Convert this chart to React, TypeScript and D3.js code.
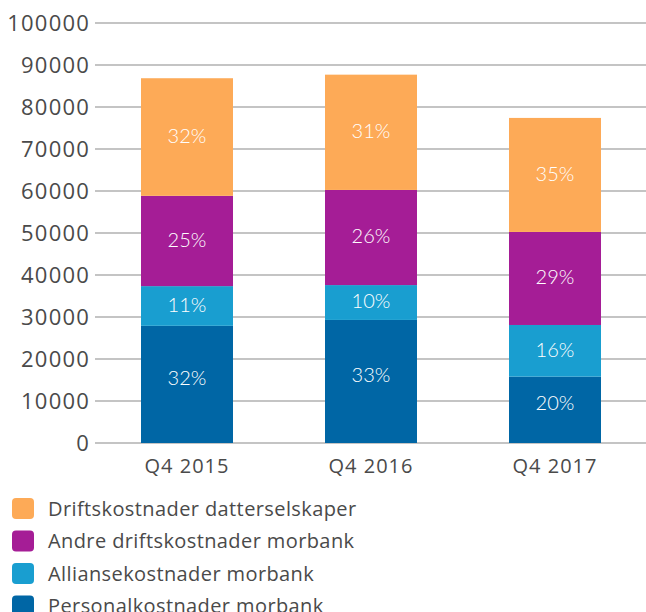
import React from "react";
import * as d3 from "d3";

const categories = ["Q4 2015", "Q4 2016", "Q4 2017"];
const seriesNames = [
  "Personalkostnader morbank",
  "Alliansekostnader morbank",
  "Andre driftskostnader morbank",
  "Driftskostnader datterselskaper",
];
const personal = [27900, 29300, 15800];
const allianse = [9450, 8300, 12300];
const andre = [21500, 22650, 22150];
const drift = [28000, 27450, 27150];
const personalPct = ["32%", "33%", "20%"];
const alliansePct = ["11%", "10%", "16%"];
const andrePct = ["25%", "26%", "29%"];
const driftPct = ["32%", "31%", "35%"];
const yTicks = [0, 10000, 20000, 30000, 40000, 50000, 60000, 70000, 80000, 90000, 100000];
const colors = ["#0066A5", "#199ED0", "#A51D96", "#FDAA57"];

const W = 646;
const H = 612;
const FONT = "'Open Sans', Lato, sans-serif";
const LFONT = "Lato, 'Open Sans', sans-serif";

export default function App() {
  const series = [personal, allianse, andre, drift];
  const pcts = [personalPct, alliansePct, andrePct, driftPct];
  const labelShift = [-7, -1.5, -1.5, -1.5];
  const y = d3.scaleLinear().domain([0, 100000]).range([443, 23]);
  const x = d3.scaleBand().domain(categories).range([95, 647]).paddingInner(0.5).paddingOuter(0.25);
  const rows = categories.map((c, i) => {
    const r: any = { cat: c };
    series.forEach((s, k) => (r["s" + k] = s[i]));
    return r;
  });
  const stack = d3.stack().keys(["s0", "s1", "s2", "s3"])(rows);
  const legendOrder = [3, 2, 1, 0];
  return (
    <svg width={W} height={H} style={{ position: "absolute", left: 0, top: 0, background: "#fff" }}>
      {yTicks.map((t) => (
        <g key={t}>
          <line x1={95} x2={W} y1={y(t)} y2={y(t)} stroke="#c4c4c4" strokeWidth={2} />
          <text x={90} y={y(t)} dy="0.36em" textAnchor="end" fontFamily={FONT} fontSize={22} letterSpacing={1.2} fill="#4a4a4a">
            {t}
          </text>
        </g>
      ))}
      {stack.map((layer, k) =>
        layer.map((d, i) => {
          const x0 = x(categories[i])!;
          const y0 = y(d[1]);
          const h = y(d[0]) - y(d[1]);
          return (
            <g key={k + "-" + i}>
              <rect x={x0} y={y0} width={x.bandwidth()} height={h} fill={colors[k]} />
              <text
                x={x0 + x.bandwidth() / 2}
                y={y0 + h / 2 + labelShift[k]}
                dy="0.36em"
                textAnchor="middle"
                fontFamily={LFONT}
                fontSize={20}
                fontWeight={300}
                fill="#fff"
              >
                {pcts[k][i]}
              </text>
            </g>
          );
        })
      )}
      {categories.map((c) => (
        <text
          key={c}
          x={x(c)! + x.bandwidth() / 2}
          y={466}
          dy="0.36em"
          textAnchor="middle"
          fontFamily={FONT}
          fontSize={20}
          letterSpacing={1}
          fill="#4a4a4a"
        >
          {c}
        </text>
      ))}
      {legendOrder.map((k, j) => (
        <g key={k} transform={`translate(12, ${498 + j * 32.5})`}>
          <rect width={22} height={21} rx={4} fill={colors[k]} />
          <text x={36} y={10.5} dy="0.36em" fontFamily={FONT} fontSize={20} letterSpacing={0.4} fill="#4a4a4a">
            {seriesNames[k]}
          </text>
        </g>
      ))}
    </svg>
  );
}
